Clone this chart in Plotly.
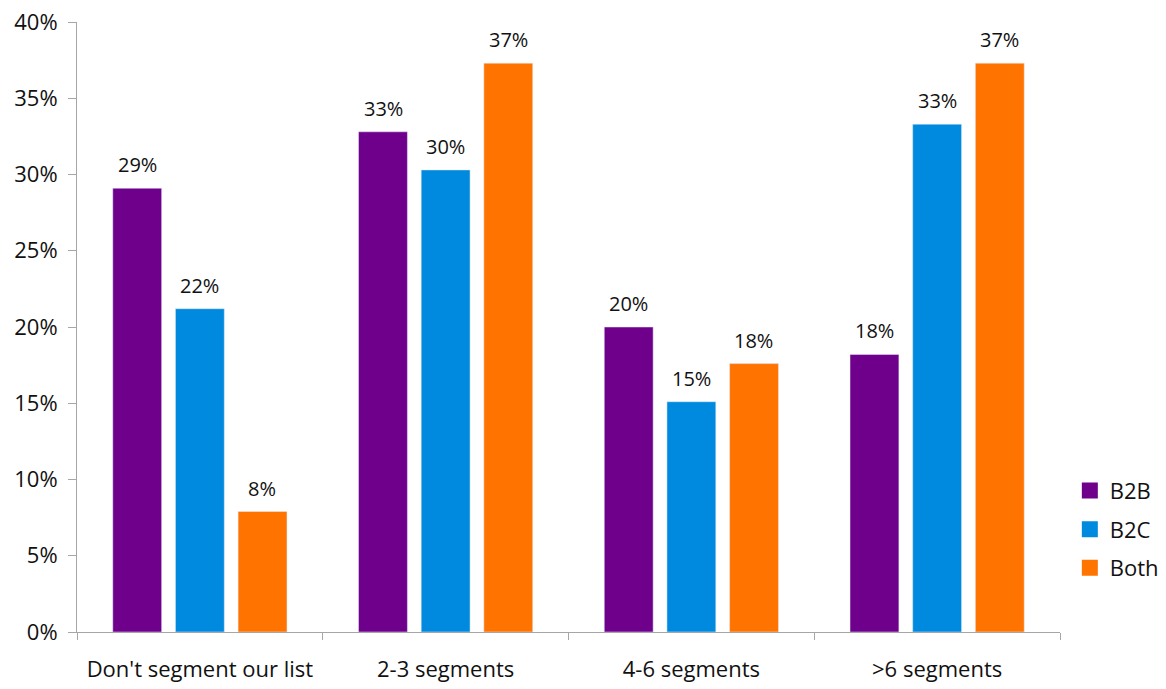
import plotly.graph_objects as go

categories = ["Don't segment our list", "2-3 segments", "4-6 segments", ">6 segments"]
b2b = [29.1, 32.8, 20.0, 18.2]
b2c = [21.2, 30.3, 15.1, 33.3]
both = [7.9, 37.3, 17.6, 37.3]
b2b_labels = ["29%", "33%", "20%", "18%"]
b2c_labels = ["22%", "30%", "15%", "33%"]
both_labels = ["8%", "37%", "18%", "37%"]
y_ticks = [0, 5, 10, 15, 20, 25, 30, 35, 40]
y_tick_labels = ["0%", "5%", "10%", "15%", "20%", "25%", "30%", "35%", "40%"]

FONT = "Open Sans, Noto Sans, sans-serif"
TXT = "#111111"

series = [
    ("B2B", b2b, b2b_labels, "#6E008C", -62.5),
    ("B2C", b2c, b2c_labels, "#008ADF", 0.0),
    ("Both", both, both_labels, "#FF7300", 62.5),
]

fig = go.Figure()
annotations = []
for name, vals, labels, color, dx in series:
    fig.add_trace(go.Bar(
        name=name, x=categories, y=vals, marker_color=color,
        showlegend=False, hoverinfo="x+y",
    ))
    # legend proxy with larger square swatch
    fig.add_trace(go.Scatter(
        name=name, x=[None], y=[None], mode="markers",
        marker=dict(symbol="square", size=18, color=color),
        showlegend=True, legendgroup=name,
    ))
    for c, v, t in zip(categories, vals, labels):
        annotations.append(dict(
            x=c, y=v, xref="x", yref="y", text=t, showarrow=False,
            xshift=dx, yshift=8, yanchor="bottom",
            font=dict(size=20, color=TXT, family=FONT),
        ))

fig.update_layout(
    width=1166, height=689,
    margin=dict(l=77, r=106, t=22, b=57, autoexpand=False),
    paper_bgcolor="white", plot_bgcolor="white",
    barmode="group", bargap=0.235, bargroupgap=0.22,
    font=dict(family=FONT, size=22, color=TXT),
    annotations=annotations,
    legend=dict(
        x=1.01, xanchor="left", y=0.266, yanchor="top",
        font=dict(size=22), tracegroupgap=7, itemsizing="trace",
        bgcolor="rgba(0,0,0,0)",
    ),
    xaxis=dict(
        showline=True, linecolor="#A6A6A6", linewidth=1,
        ticks="outside", tickson="boundaries", ticklen=7, tickcolor="#A6A6A6",
        tickfont=dict(size=22), showgrid=False, ticklabelstandoff=18,
        automargin=False,
    ),
    yaxis=dict(
        range=[0, 40], tickvals=y_ticks, ticktext=y_tick_labels,
        showline=True, linecolor="#A6A6A6", linewidth=1,
        ticks="outside", ticklen=8, tickcolor="#A6A6A6",
        showgrid=False, zeroline=False, tickfont=dict(size=22),
        ticklabelstandoff=6, automargin=False,
    ),
)

fig.write_html("out.html")
